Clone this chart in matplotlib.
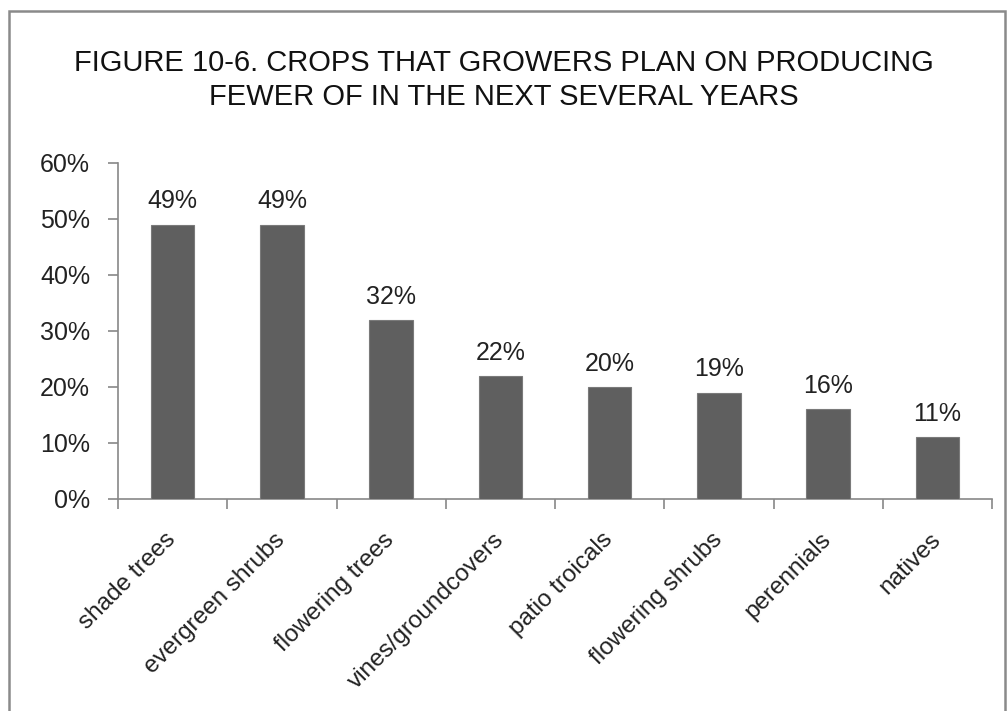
import numpy as np
import matplotlib.pyplot as plt
from matplotlib.patches import Rectangle

plt.rcParams['font.family'] = ['Liberation Sans', 'DejaVu Sans']

crops = ['shade trees', 'evergreen shrubs', 'flowering trees', 'vines/groundcovers',
         'patio troicals', 'flowering shrubs', 'perennials', 'natives']
share = [49, 49, 32, 22, 20, 19, 16, 11]  # percent
yticks = [0, 10, 20, 30, 40, 50, 60]

fig = plt.figure(figsize=(10.08, 7.11), dpi=100)
ax = fig.add_axes([118/1008, 1-499/711, (992-118)/1008, (499-163)/711])

x = np.arange(len(crops))
ax.bar(x, share, width=0.4, color='#5f5f5f', edgecolor='#7a7a7a', linewidth=0.8, zorder=3)
for xi, v in zip(x, share):
    ax.annotate(f'{v}%', (xi, v), xytext=(0, 8), textcoords='offset points',
                ha='center', va='bottom', fontsize=18, color='#222222')

ax.set_xlim(-0.5, len(crops) - 0.5)
ax.set_ylim(0, 60)
ax.set_yticks(yticks)
ax.set_yticklabels([f'{t}%' for t in yticks], fontsize=18, color='#222222')

# category labels, tick marks at the boundaries
ax.set_xticks(np.arange(len(crops) + 1) - 0.5)
ax.set_xticklabels([])
ax.set_xticks(x, minor=True)
ax.set_xticklabels(crops, minor=True, rotation=45, ha='right', va='center',
                   rotation_mode='anchor', fontsize=17.5, color='#222222')
ax.tick_params(axis='x', which='minor', length=0, pad=27)
ax.tick_params(axis='x', which='major', length=7, color='#888888', width=1.2)
ax.tick_params(axis='y', length=7, color='#888888', width=1.2, pad=13)

for s in ['top', 'right']:
    ax.spines[s].set_visible(False)
for s in ['left', 'bottom']:
    ax.spines[s].set_color('#888888')
    ax.spines[s].set_linewidth(1.2)

fig.text(0.5, 1-80/711, 'FIGURE 10-6. CROPS THAT GROWERS PLAN ON PRODUCING\nFEWER OF IN THE NEXT SEVERAL YEARS',
         ha='center', va='center', fontsize=21, linespacing=1.25, color='#111111')

# chart frame
fig.patches.append(Rectangle((9/1008, -0.05), (1005-9)/1008, 1.05-11/711,
                             transform=fig.transFigure, fill=False,
                             edgecolor='#8a8a8a', linewidth=1.8))

fig.savefig('out.png', dpi=100)
